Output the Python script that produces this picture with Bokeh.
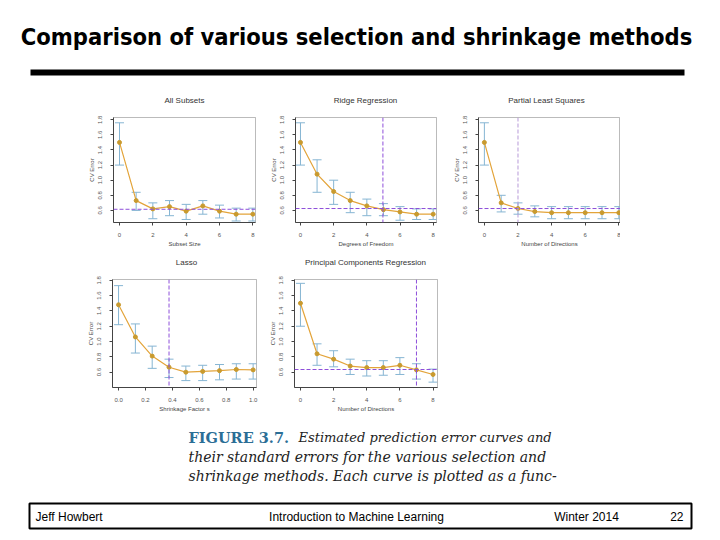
from bokeh.plotting import figure
from bokeh.layouts import column, row
from bokeh.models import (Range1d, FixedTicker, ColumnDataSource, Whisker, TeeHead,
                          Span, Spacer, PrintfTickFormatter)
from bokeh.core.properties import value
from bokeh.embed import file_html
from bokeh.resources import INLINE

# ---------------- data ----------------
steps = [0, 1, 2, 3, 4, 5, 6, 7, 8]
lasso_s = [0.0, 0.125, 0.25, 0.375, 0.5, 0.625, 0.75, 0.875, 1.0]

subset_cv = [1.50, 0.73, 0.62, 0.65, 0.59, 0.66, 0.59, 0.55, 0.55]
subset_lo = [1.20, 0.60, 0.49, 0.53, 0.48, 0.55, 0.50, 0.46, 0.46]
subset_hi = [1.76, 0.84, 0.70, 0.73, 0.68, 0.73, 0.67, 0.63, 0.63]
subset_h = 0.615

ridge_cv = [1.50, 1.08, 0.85, 0.73, 0.66, 0.61, 0.58, 0.55, 0.55]
ridge_lo = [1.20, 0.84, 0.68, 0.57, 0.53, 0.53, 0.47, 0.48, 0.48]
ridge_hi = [1.76, 1.27, 1.00, 0.84, 0.75, 0.69, 0.65, 0.62, 0.62]
ridge_h, ridge_v = 0.625, 4.97

pls_cv = [1.50, 0.70, 0.625, 0.585, 0.57, 0.57, 0.57, 0.57, 0.57]
pls_lo = [1.20, 0.58, 0.55, 0.515, 0.49, 0.49, 0.49, 0.49, 0.49]
pls_hi = [1.76, 0.80, 0.70, 0.66, 0.65, 0.65, 0.65, 0.65, 0.65]
pls_h, pls_v = 0.625, 2.0

lasso_cv = [1.48, 1.06, 0.81, 0.665, 0.60, 0.61, 0.62, 0.635, 0.63]
lasso_lo = [1.22, 0.85, 0.65, 0.53, 0.49, 0.49, 0.50, 0.51, 0.51]
lasso_hi = [1.73, 1.23, 0.94, 0.77, 0.68, 0.69, 0.70, 0.71, 0.71]
lasso_v = 0.375

pcr_cv = [1.50, 0.84, 0.77, 0.68, 0.66, 0.66, 0.69, 0.63, 0.57]
pcr_lo = [1.20, 0.69, 0.67, 0.57, 0.55, 0.56, 0.57, 0.51, 0.47]
pcr_hi = [1.76, 0.97, 0.88, 0.77, 0.75, 0.75, 0.79, 0.71, 0.64]
pcr_h, pcr_v = 0.635, 7.0

y_ticks = [0.6, 0.8, 1.0, 1.2, 1.4, 1.6, 1.8]
x_ticks_int = [0, 2, 4, 6, 8]
x_ticks_lasso = [0.0, 0.2, 0.4, 0.6, 0.8, 1.0]

panel_titles_top = ["All Subsets", "Ridge Regression", "Partial Least Squares"]
panel_titles_bottom = ["Lasso", "Principal Components Regression"]
slide_title = "Comparison of various selection and shrinkage methods"
caption_head = "FIGURE 3.7."
caption_lines = ["Estimated prediction error curves and",
                 "their standard errors for the various selection and",
                 "shrinkage methods.  Each curve is plotted as a func-"]
footer_texts = ["Jeff Howbert", "Introduction to Machine Learning", "Winter 2014", "22"]

LINE_C = "#E3A43A"
PT_C = "#C99A2E"
ERR_C = "#86B5D3"
DASH_C = "#8E4FDA"


def panel(xs, cv, lo, hi, xlabel, xr, yr, xticks, xfmt="%d", hline=None,
          vline=None, vcolor=DASH_C, w=180, h=140, left=33, right=5, top=7, bottom=28):
    p = figure(width=w, height=h, output_backend="svg", toolbar_location=None,
               x_range=Range1d(*xr), y_range=Range1d(*yr),
               min_border_left=left, min_border_right=right,
               min_border_top=top, min_border_bottom=bottom)
    p.xgrid.visible = False
    p.ygrid.visible = False
    p.outline_line_color = "#555555"
    p.outline_line_width = 1
    p.outline_line_alpha = 0.4
    for ax in (p.xaxis[0], p.yaxis[0]):
        ax.axis_line_color = "#444444"
        ax.major_tick_line_color = "#444444"
        ax.minor_tick_line_color = None
        ax.major_tick_out = 3
        ax.major_tick_in = 0
        ax.major_label_text_font_size = "6px"
        ax.major_label_text_color = "#555555"
        ax.axis_label_text_font_size = "6px"
        ax.axis_label_text_font_style = "normal"
        ax.axis_label_text_color = "#444444"
    p.xaxis.major_label_standoff = 7
    p.xaxis.axis_label_standoff = 1
    p.yaxis.major_label_standoff = 8
    p.yaxis.axis_label_standoff = 1
    p.xaxis.ticker = FixedTicker(ticks=xticks)
    p.yaxis.ticker = FixedTicker(ticks=y_ticks)
    p.xaxis.formatter = PrintfTickFormatter(format=xfmt)
    p.yaxis.formatter = PrintfTickFormatter(format="%.1f")
    p.yaxis.major_label_orientation = "vertical"
    p.xaxis.axis_label = xlabel
    p.yaxis.axis_label = "CV Error"

    src = ColumnDataSource(dict(x=xs, cv=cv, lo=lo, hi=hi))
    wk = Whisker(base="x", lower="lo", upper="hi", source=src,
                 line_color=ERR_C, line_width=1,
                 upper_head=TeeHead(size=9, line_color=ERR_C, line_width=1),
                 lower_head=TeeHead(size=9, line_color=ERR_C, line_width=1))
    p.add_layout(wk)
    if hline is not None:
        p.add_layout(Span(location=hline, dimension="width", line_color=DASH_C,
                          line_dash="4 2", line_width=1))
    if vline is not None:
        p.add_layout(Span(location=vline, dimension="height", line_color=vcolor,
                          line_dash="4 2", line_width=1))
    p.line("x", "cv", source=src, line_color=LINE_C, line_width=1.2)
    p.scatter("x", "cv", source=src, size=4, fill_color=PT_C, line_color=PT_C)
    return p


YR1 = (0.44, 1.83)
YR2 = (0.40, 1.81)

p1 = panel(steps, subset_cv, subset_lo, subset_hi, "Subset Size",
           (-0.36, 8.16), YR1, x_ticks_int, hline=subset_h, left=33, right=5)
p2 = panel(steps, ridge_cv, ridge_lo, ridge_hi, "Degrees of Freedom",
           (-0.3, 8.2), YR1, x_ticks_int, hline=ridge_h, vline=ridge_v, left=35, right=4)
p3 = panel(steps, pls_cv, pls_lo, pls_hi, "Number of Directions",
           (-0.35, 8.1), YR1, x_ticks_int, hline=pls_h, vline=pls_v, vcolor="#B79AD9",
           left=38, right=0)
p4 = panel(lasso_s, lasso_cv, lasso_lo, lasso_hi, "Shrinkage Factor s",
           (-0.045, 1.025), YR2, x_ticks_lasso, xfmt="%.1f", vline=lasso_v, h=143,
           left=32, right=4)
p5 = panel(steps, pcr_cv, pcr_lo, pcr_hi,
           "Number of Directions", (-0.36, 8.27), YR2, x_ticks_int, hline=pcr_h,
           vline=pcr_v, h=143, left=34, right=3)


def blank(w, h):
    f = figure(width=w, height=h, output_backend="svg", toolbar_location=None,
               x_range=Range1d(0, w), y_range=Range1d(h, 0),
               x_axis_type=None, y_axis_type=None, min_border=0)
    f.outline_line_color = None
    f.background_fill_color = "white"
    f.border_fill_color = "white"
    return f


W = 716
TITLE_KW = dict(text_align="center", text_baseline="middle",
                text_font=value("Liberation Sans"), text_font_size="8px",
                text_color="#333333")

# header (slide title, rule and the top row's panel titles)
hdr = blank(W, 110)
hdr.text(x=[356], y=[36], text=[slide_title], text_align="center", text_baseline="middle",
         text_font=value("DejaVu Sans Condensed"), text_font_style="bold",
         text_font_size="23.5px", text_color="black")
hdr.quad(left=[30], right=[684], top=[69], bottom=[75], fill_color="black", line_color=None)
hdr.text(x=[184, 365, 546], y=[100, 100, 100], text=panel_titles_top, **TITLE_KW)

# strip with the bottom row's panel titles
mid = blank(W, 22)
mid.text(x=[186, 365], y=[12, 12], text=panel_titles_bottom, **TITLE_KW)

# footer (caption + slide footer)
ftr = blank(W, 124)
ftr.text(x=[188], y=[22], text=[caption_head], text_align="left", text_baseline="middle",
         text_font=value("DejaVu Serif"), text_font_style="bold",
         text_font_size="14.5px", text_color="#2B6E96")
ftr.text(x=[298], y=[22], text=[caption_lines[0]], text_align="left",
         text_baseline="middle", text_font=value("DejaVu Serif"),
         text_font_style="italic", text_font_size="13px", text_color="#222222")
ftr.text(x=[188, 188], y=[41, 60], text=caption_lines[1:], text_align="left",
         text_baseline="middle", text_font=value("DejaVu Serif"),
         text_font_style="italic", text_font_size="14px", text_color="#222222")
ftr.quad(left=[29], right=[691], top=[88], bottom=[113], fill_color=None,
         line_color="black", line_width=2)
ftr.text(x=[35], y=[101], text=[footer_texts[0]], text_align="left", text_baseline="middle",
         text_font=value("Liberation Sans"), text_font_size="12px", text_color="black")
ftr.text(x=[356, 586], y=[101, 101], text=footer_texts[1:3], text_align="center",
         text_baseline="middle", text_font=value("Liberation Sans"), text_font_size="12px",
         text_color="black")
ftr.text(x=[683], y=[101], text=[footer_texts[3]], text_align="right", text_baseline="middle",
         text_font=value("Liberation Sans"), text_font_size="12px", text_color="black")

layout = column(
    hdr,
    row(Spacer(width=80, height=140), p1, p2, p3, Spacer(width=W - 620, height=140)),
    mid,
    row(Spacer(width=80, height=143), p4, p5, Spacer(width=W - 440, height=143)),
    ftr,
)

open("out.html", "w").write(file_html(layout, INLINE))
